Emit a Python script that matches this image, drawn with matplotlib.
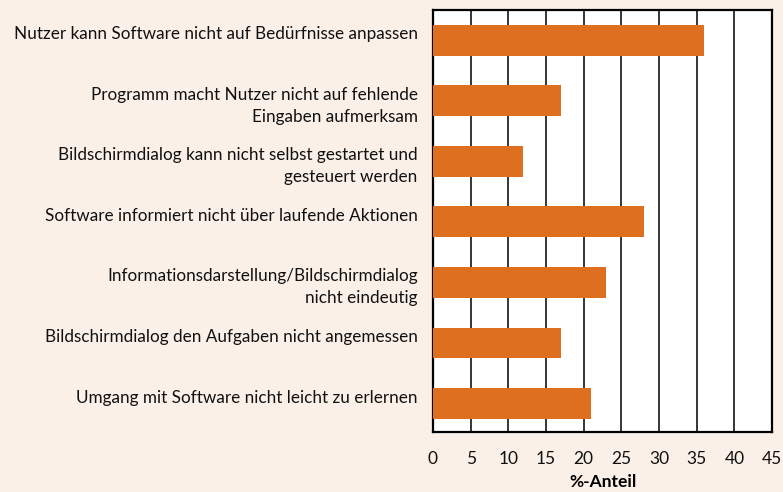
import matplotlib.pyplot as plt
import numpy as np
from matplotlib.transforms import ScaledTranslation

categories = [
    "Nutzer kann Software nicht auf Bedürfnisse anpassen",
    "Programm macht Nutzer nicht auf fehlende\nEingaben aufmerksam",
    "Bildschirmdialog kann nicht selbst gestartet und\ngesteuert werden",
    "Software informiert nicht über laufende Aktionen",
    "Informationsdarstellung/Bildschirmdialog\nnicht eindeutig",
    "Bildschirmdialog den Aufgaben nicht angemessen",
    "Umgang mit Software nicht leicht zu erlernen",
]
values = [36, 17, 12, 28, 23, 17, 21]
xticks = [0, 5, 10, 15, 20, 25, 30, 35, 40, 45]

bg = "#faf0e8"
bar_color = "#dd6f1e"

plt.rcParams['font.family'] = ['Lato', 'DejaVu Sans']

fig = plt.figure(figsize=(7.83, 4.92), dpi=100, facecolor=bg)
ax = fig.add_axes([0.553, 0.122, 0.433, 0.858])
ax.set_facecolor("white")

y_pos = np.arange(len(categories))
ax.barh(y_pos, values, height=0.51, color=bar_color, zorder=3)

ax.set_xlim(0, 45)
ax.set_ylim(6.47, -0.5)
ax.set_xticks(xticks)
ax.set_xticklabels([str(t) for t in xticks], fontsize=12.5)
ax.set_yticks(y_pos)
ax.set_yticklabels(categories, fontsize=12.3, linespacing=1.45, va="top")
ax.tick_params(axis="both", length=0, colors="#111111")
ax.tick_params(axis="y", pad=11)
ax.tick_params(axis="x", pad=14)

offset = ScaledTranslation(0, 0.14, fig.dpi_scale_trans)
for lbl in ax.get_yticklabels():
    lbl.set_transform(lbl.get_transform() + offset)

ax.grid(axis="x", color="black", linewidth=1.1, zorder=1)
ax.grid(axis="y", visible=False)
for s in ax.spines.values():
    s.set_linewidth(1.6)
    s.set_color("black")

ax.set_xlabel("%-Anteil", fontsize=12.5, fontweight="bold", labelpad=5)

fig.savefig("out.png", dpi=100, facecolor=bg)
